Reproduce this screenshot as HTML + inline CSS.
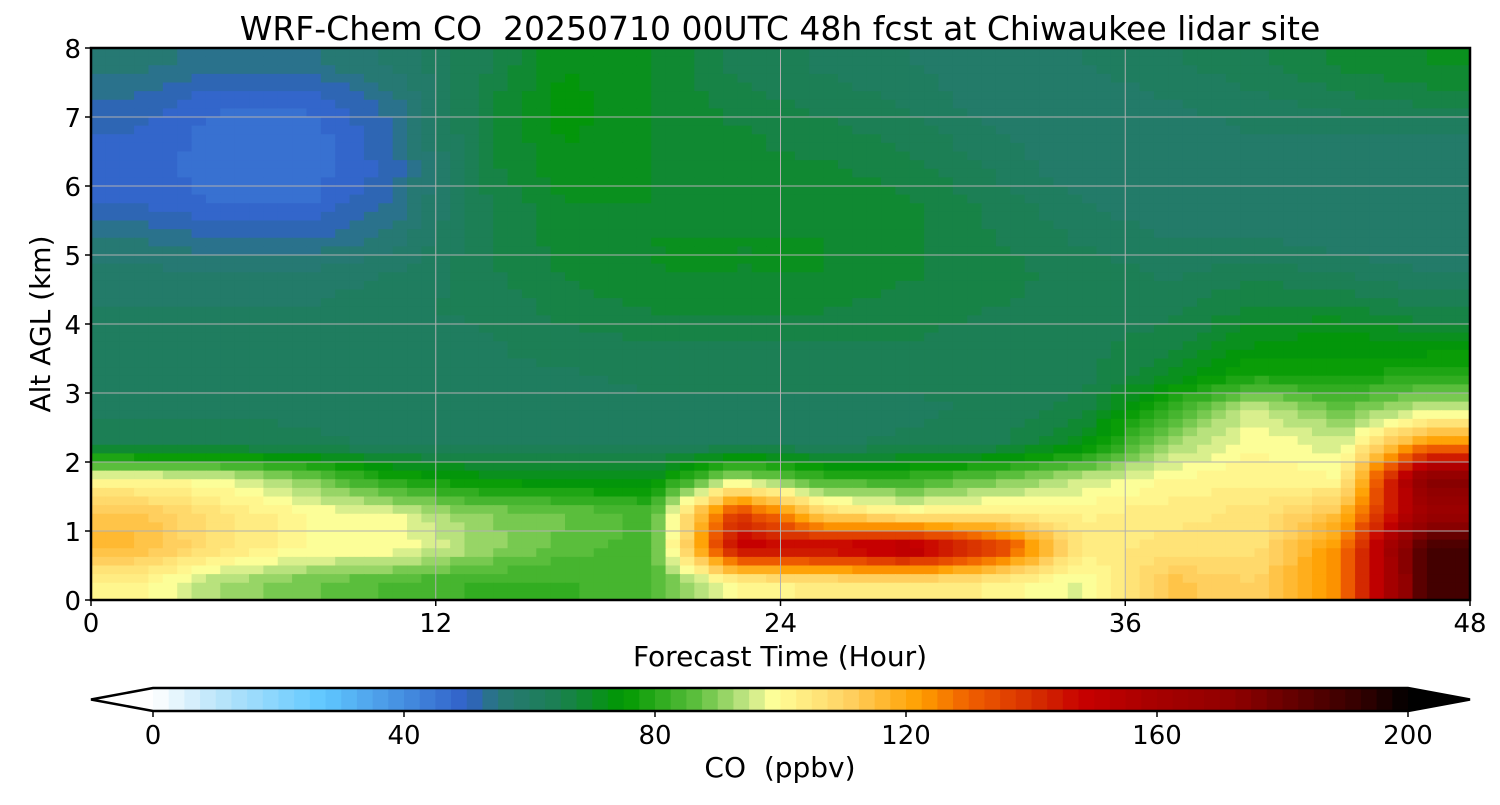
<!DOCTYPE html>
<html><head><meta charset="utf-8"><style>
body{margin:0;background:#fff;font-family:"Liberation Sans","DejaVu Sans",sans-serif}
svg text{font-family:"DejaVu Sans","Liberation Sans",sans-serif;fill:#000;white-space:pre}
</style></head><body>
<svg id="chart" width="1500" height="800" xmlns="http://www.w3.org/2000/svg">
<text x="780" y="40" font-size="33" text-anchor="middle" xml:space="preserve">WRF-Chem CO  20250710 00UTC 48h fcst at Chiwaukee lidar site</text>
<g id="heat"></g>
<g id="grid"></g>
<rect x="91" y="48" width="1379" height="552" fill="none" stroke="#000" stroke-width="2.5"/>
<g id="axes"></g>
<text x="780" y="666" font-size="28" text-anchor="middle">Forecast Time (Hour)</text>
<text transform="translate(50,324) rotate(-90)" font-size="28" text-anchor="middle">Alt AGL (km)</text>
<g id="cbar"></g>
<text x="780" y="777" font-size="28" text-anchor="middle" xml:space="preserve">CO  (ppbv)</text>
</svg>
<script>
const times=[1.5,4.5,7.5,10.5,13.5,16.5,19.5,22.5,25.5,28.5,31.5,34.5,37.5,40.5,43.5,46.5];
const alts=[7.75,7.25,6.75,6.25,5.75,5.25,4.75,4.25,3.75,3.25,2.75,2.25,1.75,1.25,0.75,0.25];
const coValues=[
[56,54,54,58,64,72,70,64,62,60,58,60,62,64,68,70],
[52,48,48,54,66,74,70,66,64,62,58,58,60,62,64,66],
[50,46,46,52,66,73,70,68,66,64,60,58,58,60,60,60],
[49,46,46,51,66,72,70,68,68,66,62,58,58,58,58,58],
[50,47,47,53,64,70,70,69,70,68,64,60,58,58,58,58],
[55,52,52,56,64,69,70,70,70,68,65,62,60,60,58,58],
[58,58,58,60,64,68,70,70,70,68,66,64,62,64,62,60],
[60,60,60,62,63,66,68,68,68,66,65,64,64,68,68,64],
[62,62,62,62,62,64,65,65,65,65,64,64,66,72,74,72],
[62,62,62,62,62,62,63,63,63,63,63,64,70,78,76,80],
[62,62,62,62,62,62,62,62,62,62,63,66,82,96,88,95],
[64,64,63,62,62,62,62,62,62,63,64,72,92,100,96,125],
[100,98,90,78,74,72,72,94,82,82,88,95,100,102,100,175],
[114,106,100,98,90,88,84,140,110,102,104,102,104,106,115,165],
[116,106,100,100,92,86,84,150,150,158,140,104,106,106,125,190],
[102,92,88,84,82,82,84,100,104,105,102,96,114,110,125,188]];
const xTicks=[0,12,24,36,48];
const yTicks=[0,1,2,3,4,5,6,7,8];
const cbTicks=[0,40,80,120,160,200];
const NS="http://www.w3.org/2000/svg";
const X0=91,X1=1470,Y0=600,Y1=48;
const xs=t=>X0+(t/48)*(X1-X0), ys=z=>Y0-(z/8)*(Y0-Y1);
const stops=[[0,"#ffffff"],[10,"#bde6fa"],[27,"#60c8ff"],[50,"#3060c8"],[55,"#287878"],[65,"#1a8050"],[75,"#009900"],[87,"#60c040"],[95,"#c8e888"],[99,"#ffff99"],[111,"#ffd060"],[122,"#ffa000"],[130,"#f06000"],[143,"#d02000"],[148,"#c80000"],[159,"#a80000"],[172,"#900000"],[193,"#300000"],[200,"#000000"]];
function hx(c){return [1,3,5].map(i=>parseInt(c.substr(i,2),16));}
function cmap(v){v=Math.max(0,Math.min(200,Math.floor(v/2.5)*2.5+1.25));
 for(let i=1;i<stops.length;i++){if(v<=stops[i][0]){const a=stops[i-1],b=stops[i],f=(v-a[0])/(b[0]-a[0]);const ca=hx(a[1]),cb=hx(b[1]);return "rgb("+ca.map((x,k)=>Math.round(x+(cb[k]-x)*f)).join(",")+")";}}
 return "#000";}
function mk(tag,at,parent){const e=document.createElementNS(NS,tag);for(const k in at)e.setAttribute(k,at[k]);parent.appendChild(e);return e;}
function val(t,z){
 const nt=times.length,nz=alts.length;
 let fi=(t-times[0])/(times[1]-times[0]);fi=Math.max(0,Math.min(nt-1,fi));
 let fj=(alts[0]-z)/(alts[0]-alts[1]);fj=Math.max(0,Math.min(nz-1,fj));
 const i0=Math.min(nt-2,Math.floor(fi)),j0=Math.min(nz-2,Math.floor(fj)),a=fi-i0,b=fj-j0;
 return coValues[j0][i0]*(1-a)*(1-b)+coValues[j0][i0+1]*a*(1-b)+coValues[j0+1][i0]*(1-a)*b+coValues[j0+1][i0+1]*a*b;}
const heat=document.getElementById('heat');
const NX=96,NY=64;
for(let j=0;j<NY;j++)for(let i=0;i<NX;i++){
 const t0=48*i/NX,t1=48*(i+1)/NX,z1=8-8*j/NY,z0=8-8*(j+1)/NY;
 const v=val((t0+t1)/2,(z0+z1)/2);
 const r=mk('rect',{x:xs(t0).toFixed(2),y:ys(z1).toFixed(2),width:(xs(t1)-xs(t0)+0.6).toFixed(2),height:(ys(z0)-ys(z1)+0.6).toFixed(2),fill:cmap(v)},heat);
 
 
}
const grid=document.getElementById('grid'),axes=document.getElementById('axes');
xTicks.forEach(t=>{
 if(t>0&&t<48){const l=mk('line',{x1:xs(t),x2:xs(t),y1:Y1,y2:Y0,stroke:"#b0b0b0","stroke-width":1},grid);}
 const tk=mk('line',{x1:xs(t),x2:xs(t),y1:Y0,y2:Y0+6,stroke:"#000","stroke-width":1.5},axes);
 const tx=mk('text',{x:xs(t),y:Y0+32,"font-size":26,"text-anchor":"middle"},axes);tx.textContent=t;
});
yTicks.forEach(z=>{
 if(z>0&&z<8){const l=mk('line',{x1:X0,x2:X1,y1:ys(z),y2:ys(z),stroke:"#b0b0b0","stroke-width":1},grid);}
 const tk=mk('line',{x1:X0-6,x2:X0,y1:ys(z),y2:ys(z),stroke:"#000","stroke-width":1.5},axes);
 const tx=mk('text',{x:X0-10,y:ys(z)+10,"font-size":26,"text-anchor":"end"},axes);tx.textContent=z;
});
const cb=document.getElementById('cbar');const C0=153,C1=1408,CT=688,CB=711;const cx=v=>C0+(v/200)*(C1-C0);
for(let v=0;v<200;v+=2.5){const r=mk('rect',{x:cx(v).toFixed(2),y:CT,width:(cx(2.5)-C0+0.5).toFixed(2),height:CB-CT,fill:cmap(v)},cb);}
const lt=mk('polygon',{points:`${C0},${CT} 91,${(CT+CB)/2} ${C0},${CB}`,fill:"#fff",stroke:"none"},cb);
const rt=mk('polygon',{points:`${C1},${CT} 1470,${(CT+CB)/2} ${C1},${CB}`,fill:"#000",stroke:"none"},cb);
const ol=mk('polygon',{points:`${C0},${CT} ${C1},${CT} 1470,${(CT+CB)/2} ${C1},${CB} ${C0},${CB} 91,${(CT+CB)/2}`,fill:"none",stroke:"#000","stroke-width":2.5},cb);
cbTicks.forEach(v=>{const tk=mk('line',{x1:cx(v),x2:cx(v),y1:CB,y2:CB+6,stroke:"#000","stroke-width":1.5},cb);
 const tx=mk('text',{x:cx(v),y:CB+33,"font-size":26,"text-anchor":"middle"},cb);tx.textContent=v;});
</script>
</body></html>
